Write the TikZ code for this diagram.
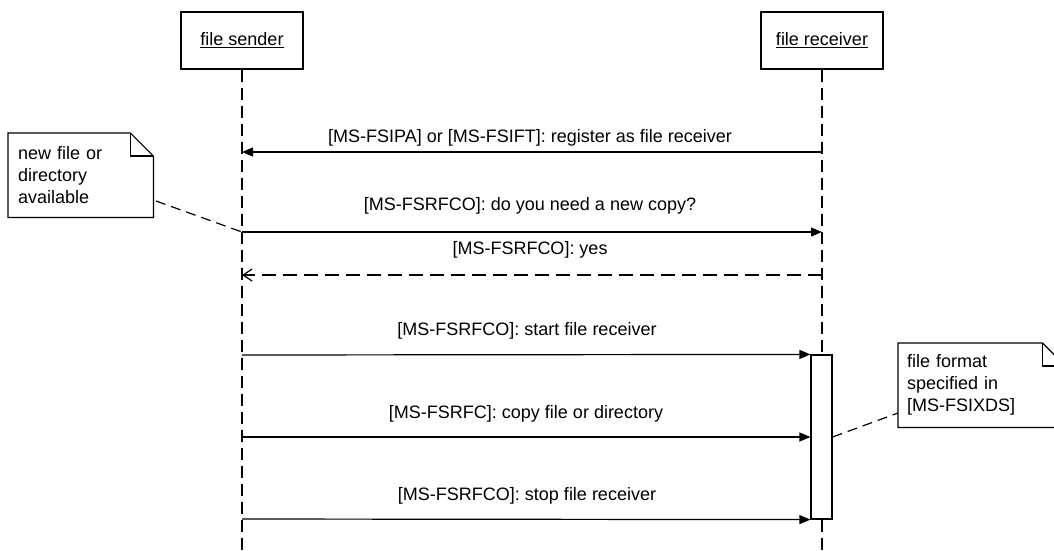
\documentclass[tikz,border=0pt]{standalone}
\usepackage{fontspec}
\setmainfont{Liberation Sans}
\usetikzlibrary{arrows.meta}

\tikzset{
  lifebox/.style={draw, line width=1.4pt, minimum width=122, minimum height=57, font=\fontsize{18}{22}\selectfont},
  lifeline/.style={line width=1.2pt, dash pattern=on 12pt off 6pt},
  msg/.style={line width=1.2pt, -{Triangle[length=11pt,width=9pt]}},
  reply/.style={line width=1.2pt, dash pattern=on 14pt off 7pt, -{Straight Barb[length=9pt,width=12pt]}},
  msglabel/.style={anchor=base, font=\fontsize{18}{22}\selectfont},
  notetext/.style={anchor=north west, align=left, minimum height=84, inner ysep=0pt, font=\fontsize{18}{22}\selectfont},
  notelink/.style={line width=1.2pt, dash pattern=on 10pt off 6pt},
}

\begin{document}
\begin{tikzpicture}[x=1pt,y=-1pt]
\useasboundingbox (0,0) rectangle (1054,550);

\node[lifebox] (sender) at (242,40.5) {\underline{file sender}}; % отправитель
\node[lifebox] (receiver) at (822,40.5) {\underline{file receiver}}; % получатель
\coordinate (sendend) at (242,550);
\coordinate (rcvend) at (822,550);
\draw[lifeline] (sender.south) -- (sendend);
\draw[lifeline] (receiver.south) -- (rcvend);
\node[draw, fill=white, line width=1.2pt, inner sep=0pt, minimum width=21, minimum height=164] (act) at (821.5,437) {}; % активация

% точки сообщений на линиях жизни
\coordinate (snd1) at (242,152); \coordinate (rcv1) at (822,152);
\coordinate (snd2) at (242,232); \coordinate (rcv2) at (822,232);
\coordinate (snd3) at (242,275); \coordinate (rcv3) at (822,275);
\coordinate (snd4) at (242,355);
\coordinate (snd5) at (242,437);
\coordinate (snd6) at (242,519);

\node[msglabel] (lab1) at (530,142) {[MS-FSIPA] or [MS-FSIFT]: register as file receiver};
\node[msglabel] (lab2) at (530,210) {[MS-FSRFCO]: do you need a new copy?};
\node[msglabel] (lab3) at (530,254) {[MS-FSRFCO]: yes};
\node[msglabel] (lab4) at (527,335) {[MS-FSRFCO]: start file receiver};
\node[msglabel] (lab5) at (526,418) {[MS-FSRFC]: copy file or directory};
\node[msglabel] (lab6) at (527,500) {[MS-FSRFCO]: stop file receiver};

\draw[msg] (rcv1) -- (snd1);
\draw[msg] (snd2) -- (rcv2);
\draw[reply] (rcv3) -- (snd3);
\draw[msg] (snd4) -- (act.north west);
\draw[msg] (snd5) -- (act.west);
\draw[msg] (snd6) -- (act.south west);

% заметки
\node[notetext, text width=125, inner xsep=10] (note1) at (8,133) {new file or\\directory\\available};
\draw[line width=1.2pt] (note1.north west) -- ([xshift=-23pt]note1.north east) -- ([yshift=-23pt]note1.north east) -- (note1.south east) -- (note1.south west) -- cycle;
\draw[line width=1.2pt] ([xshift=-23pt]note1.north east) -- ++(0,23) -- ([yshift=-23pt]note1.north east);
\coordinate (link1) at (156,201);
\draw[notelink] (link1) -- (snd2);

\node[notetext, text width=149, inner xsep=9] (note2) at (898,343) {file format\\specified in\\{}[MS-FSIXDS]};
\draw[line width=1.2pt] (note2.north west) -- ([xshift=-23pt]note2.north east) -- ([yshift=-23pt]note2.north east) -- (note2.south east) -- (note2.south west) -- cycle;
\draw[line width=1.2pt] ([xshift=-23pt]note2.north east) -- ++(0,23) -- ([yshift=-23pt]note2.north east);
\coordinate (link2) at (898,413);
\draw[notelink] (act.east) -- (link2);

\end{tikzpicture}
\end{document}
